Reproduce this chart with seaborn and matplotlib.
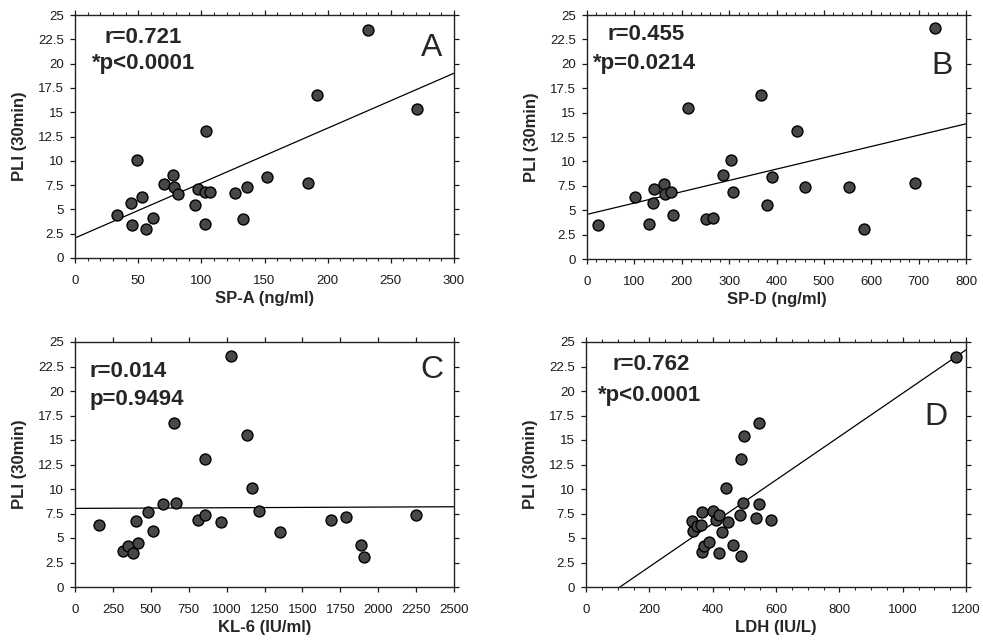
import numpy as np
import pandas as pd
import matplotlib
matplotlib.use("Agg")
import matplotlib.pyplot as plt
from matplotlib.ticker import MultipleLocator
import seaborn as sns

# ---------------- data ----------------
spa_x = [33.5, 44.3, 48.8, 45.4, 53, 56, 61.5, 70.5, 77.8, 78.6, 81.8, 95, 97.1, 103.5,
         102.9, 102.9, 106.9, 126.7, 132.8, 136.4, 151.7, 184.2, 191.9, 231.7, 271]
spa_y = [4.42, 5.66, 10.08, 3.4, 6.28, 2.98, 4.15, 7.61, 8.54, 7.34, 6.55, 5.45, 7.1, 13.07,
         3.5, 6.79, 6.79, 6.65, 4.04, 7.34, 8.37, 7.68, 16.74, 23.49, 15.36]

spd_x = [23.2, 101.9, 131.4, 138.4, 140.5, 163, 165.2, 177.8, 182, 213.7, 251, 267, 286.9,
         304.4, 308.6, 368.3, 379.7, 390.2, 444.3, 460.6, 553.4, 585, 692.6, 734.8]
spd_y = [3.46, 6.39, 3.57, 5.73, 7.14, 7.66, 6.63, 6.87, 4.5, 15.5, 4.12, 4.23, 8.59,
         10.16, 6.9, 16.84, 5.49, 8.41, 13.12, 7.35, 7.35, 3.05, 7.76, 23.64]

kl6_x = [158, 319, 352, 381, 402, 413, 481, 513, 578, 655, 666, 809, 860, 855, 961, 1027,
         1134, 1167, 1211, 1352, 1686, 1790, 1889, 1904, 2247]
kl6_y = [6.35, 3.69, 4.2, 3.52, 6.76, 4.54, 7.68, 5.73, 8.5, 16.75, 8.6, 6.86, 7.37, 13.1,
         6.59, 23.58, 15.46, 10.13, 7.78, 5.57, 6.86, 7.1, 4.27, 3.07, 7.37]

ldh_x = [335.8, 336.8, 349.4, 363, 366.3, 367.3, 372.6, 389.5, 402, 410.5, 420, 420, 428.5,
         441, 449.5, 464, 486, 489, 490, 496.8, 500, 535.8, 545.3, 547.2, 585, 1167]
ldh_y = [6.69, 5.67, 6.18, 6.36, 7.68, 3.6, 4.14, 4.59, 7.72, 6.8, 7.38, 3.47, 5.57,
         10.06, 6.59, 4.28, 7.3, 13.02, 3.12, 8.57, 15.44, 7.08, 8.47, 16.69, 6.87, 23.43]

# regression lines: (intercept, slope)
fit_a = (2.06, 0.0565)
fit_b = (4.57, 0.0116)
fit_c = (8.02, 0.000068)
fit_d = (-2.37, 0.02214)

x_labels = ["SP-A (ng/ml)", "SP-D (ng/ml)", "KL-6 (IU/ml)", "LDH (IU/L)"]
y_label = "PLI (30min)"
r_texts = ["r=0.721", "r=0.455", "r=0.014", "r=0.762"]
p_texts = ["*p<0.0001", "*p=0.0214", "p=0.9494", "*p<0.0001"]
letters = ["A", "B", "C", "D"]
x_max = [300, 800, 2500, 1200]
x_major = [50, 100, 250, 200]
x_minor = [10, 20, None, 50]
line_start = [0, 0, 0, 107]
y_ticks = [0, 2.5, 5, 7.5, 10, 12.5, 15, 17.5, 20, 22.5, 25]
y_ticklabels = ["0", "2.5", "5", "7.5", "10", "12.5", "15", "17.5", "20", "22.5", "25"]

# ---------------- plot ----------------
sns.set_style("ticks")
plt.rcParams["font.family"] = ["Liberation Sans", "DejaVu Sans"]

W, H = 983, 641
fig = plt.figure(figsize=(W / 100, H / 100), dpi=100)

boxes = [
    (75, 15, 454, 258),
    (587, 15, 966, 259),
    (75, 342, 454, 587),
    (586, 342, 966, 587),
]
r_pos = [(0.079, 0.909), (0.053, 0.919), (0.038, 0.88), (0.070, 0.907)]
p_pos = [(0.045, 0.80), (0.017, 0.80), (0.038, 0.767), (0.032, 0.78)]
let_pos = [(0.941, 0.865), (0.938, 0.793), (0.941, 0.884), (0.920, 0.694)]

datasets = [(spa_x, spa_y), (spd_x, spd_y), (kl6_x, kl6_y), (ldh_x, ldh_y)]
fits = [fit_a, fit_b, fit_c, fit_d]

for i in range(4):
    l, t, r, b = boxes[i]
    ax = fig.add_axes([l / W, 1 - b / H, (r - l) / W, (b - t) / H])
    xs, ys = datasets[i]
    df = pd.DataFrame({"x": xs, "y": ys})
    icpt, slope = fits[i]
    lx = np.array([line_start[i], x_max[i]], dtype=float)
    ldf = pd.DataFrame({"x": lx, "y": icpt + slope * lx})
    sns.lineplot(data=ldf, x="x", y="y", ax=ax, color="black", linewidth=0.9)
    sns.scatterplot(data=df, x="x", y="y", ax=ax, s=62, color="#474747",
                    edgecolor="black", linewidth=1.0, zorder=3)
    ax.set_xlim(0, x_max[i])
    ax.set_ylim(0, 25)
    ax.xaxis.set_major_locator(MultipleLocator(x_major[i]))
    if x_minor[i]:
        ax.xaxis.set_minor_locator(MultipleLocator(x_minor[i]))
    ax.set_yticks(y_ticks)
    ax.set_yticklabels(y_ticklabels)
    ax.tick_params(axis="both", which="major", direction="out", length=3.6, width=0.9,
                   top=True, right=True, labelsize=9.5, colors="#1a1a1a")
    ax.tick_params(axis="x", which="major", pad=8.5)
    ax.tick_params(axis="y", which="major", pad=4.5)
    ax.tick_params(axis="x", which="minor", direction="out", length=2.2, width=0.8,
                   top=True, bottom=True)
    for s in ax.spines.values():
        s.set_visible(True)
        s.set_linewidth(1.0)
        s.set_color("#222222")
    ax.set_xlabel(x_labels[i], fontsize=12, fontweight="bold", labelpad=3)
    ax.set_ylabel(y_label, fontsize=12, fontweight="bold", labelpad=8)
    ax.text(r_pos[i][0], r_pos[i][1], r_texts[i], transform=ax.transAxes,
            fontsize=16, fontweight="bold", ha="left", va="center")
    ax.text(p_pos[i][0], p_pos[i][1], p_texts[i], transform=ax.transAxes,
            fontsize=16, fontweight="bold", ha="left", va="center")
    ax.text(let_pos[i][0], let_pos[i][1], letters[i], transform=ax.transAxes,
            fontsize=23, ha="center", va="center")

fig.savefig("out.png", dpi=100)
